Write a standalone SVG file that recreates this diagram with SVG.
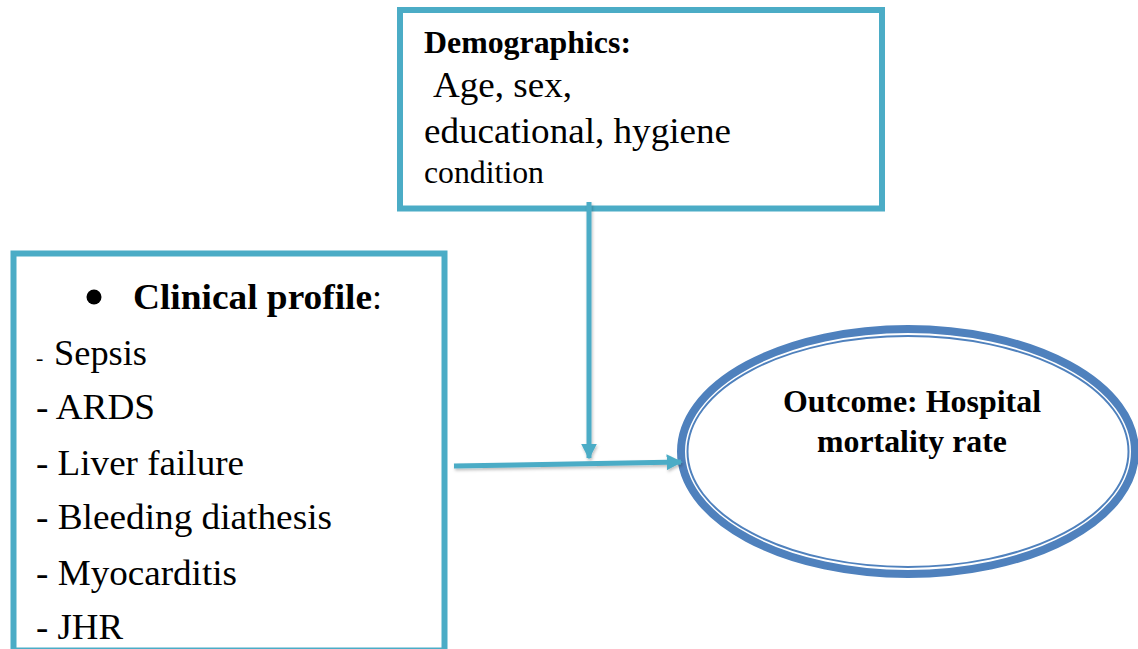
<svg xmlns="http://www.w3.org/2000/svg" width="1138" height="649" viewBox="0 0 1138 649">
  <defs>
    <style>
      .box { fill: #ffffff; stroke: #4bacc6; stroke-width: 6; }
      .t { fill: #000000; }
      .b { font-weight: bold; }
      .conn { stroke: #4bacc6; stroke-width: 5; fill: none; }
    </style>
    <marker id="arrow" viewBox="0 0 10 10" refX="9" refY="5" markerWidth="3.2" markerHeight="3.2" orient="auto" markerUnits="strokeWidth">
      <path d="M0,0 L10,5 L0,10 Z" fill="#4bacc6"/>
    </marker>
    <filter id="shadow" x="-10%" y="-10%" width="120%" height="130%">
      <feDropShadow dx="1" dy="2" stdDeviation="1.5" flood-color="#000000" flood-opacity="0.25"/>
    </filter>
  </defs>
  <rect width="1138" height="649" fill="#ffffff"/>

  <g id="demographics" font-family="'Liberation Serif', serif">
    <rect class="box" x="400" y="10" width="482" height="198.5"/>
    <text class="t b" x="424" y="53" font-size="31" textLength="207" lengthAdjust="spacingAndGlyphs">Demographics:</text>
    <text class="t" x="433" y="97" font-size="35" textLength="139" lengthAdjust="spacingAndGlyphs">Age, sex,</text>
    <text class="t" x="424" y="143" font-size="35" textLength="307" lengthAdjust="spacingAndGlyphs">educational, hygiene</text>
    <text class="t" x="424" y="183" font-size="31" textLength="120" lengthAdjust="spacingAndGlyphs">condition</text>
  </g>

  <g id="clinical" font-family="'Liberation Serif', serif">
    <rect class="box" x="13.5" y="253.5" width="431" height="397"/>
    <circle cx="94" cy="297" r="7.5" fill="#000000"/>
    <text class="t b" x="133" y="309" font-size="36" textLength="239" lengthAdjust="spacingAndGlyphs">Clinical profile</text>
    <text class="t" x="372" y="309" font-size="36">:</text>
    <text class="t" x="36" y="365" font-size="22">-</text>
    <text class="t" x="54" y="365" font-size="35" textLength="93" lengthAdjust="spacingAndGlyphs">Sepsis</text>
    <text class="t" x="36" y="419" font-size="35" textLength="119" lengthAdjust="spacingAndGlyphs">- ARDS</text>
    <text class="t" x="36" y="475" font-size="35" textLength="208" lengthAdjust="spacingAndGlyphs">- Liver failure</text>
    <text class="t" x="36" y="529" font-size="35" textLength="296" lengthAdjust="spacingAndGlyphs">- Bleeding diathesis</text>
    <text class="t" x="36" y="585" font-size="35" textLength="201" lengthAdjust="spacingAndGlyphs">- Myocarditis</text>
    <text class="t" x="36" y="639" font-size="35" textLength="87" lengthAdjust="spacingAndGlyphs">- JHR</text>
  </g>

  <g id="outcome" font-family="'Liberation Serif', serif">
    <ellipse cx="908" cy="451.5" rx="227" ry="122.5" fill="#ffffff" stroke="#4f81bd" stroke-width="8"/>
    <ellipse cx="908" cy="451.5" rx="220.5" ry="115.5" fill="none" stroke="#4f81bd" stroke-width="2"/>
    <text class="t b" x="912" y="412" font-size="31" text-anchor="middle" textLength="258" lengthAdjust="spacingAndGlyphs">Outcome: Hospital</text>
    <text class="t b" x="912" y="452" font-size="31" text-anchor="middle" textLength="190" lengthAdjust="spacingAndGlyphs">mortality rate</text>
  </g>

  <g id="connectors" filter="url(#shadow)">
    <line class="conn" x1="589" y1="202" x2="589" y2="458" marker-end="url(#arrow)"/>
    <line class="conn" x1="454" y1="466" x2="681" y2="462" marker-end="url(#arrow)"/>
  </g>
</svg>
